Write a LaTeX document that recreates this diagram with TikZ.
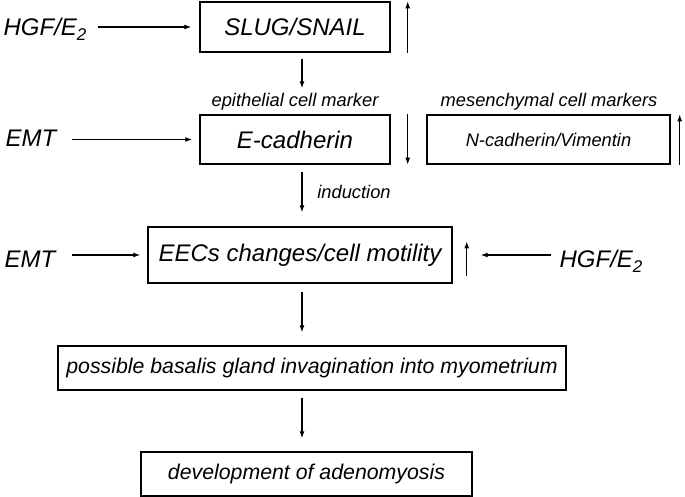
\documentclass[tikz,border=0pt]{standalone}
\usepackage{fontspec}
\setmainfont{Liberation Sans}
\usetikzlibrary{arrows.meta}
\newcommand{\lowtwo}{\raisebox{-5pt}{\fontsize{17}{17}\selectfont 2}}
\begin{document}
\begin{tikzpicture}[x=1pt,y=-1pt,
  box/.style={draw, line width=1.4pt, inner sep=0pt, align=center},
  lbl/.style={inner sep=0pt},
  arr/.style={-{Latex[length=7pt,width=5pt]}, line width=1.1pt},
  big/.style={font=\fontsize{24}{28}\selectfont\itshape},
  mid/.style={font=\fontsize{21.3}{25}\selectfont\itshape},
  sml/.style={font=\fontsize{18.3}{22}\selectfont\itshape},
]
\useasboundingbox (0,0) rectangle (685,497);

% boxes
\node[box,big,minimum width=190pt,minimum height=50pt] (slug) at (295,27) {SLUG/SNAIL};
\node[box,big,minimum width=190pt,minimum height=49pt] (ecad) at (295,139.5) {E-cadherin};
\node[box,sml,minimum width=243pt,minimum height=49pt] (ncad) at (548.5,139.5) {N-cadherin/Vimentin};
\node[box,big,minimum width=304pt,minimum height=56pt] (eec) at (300,255) {EECs changes/cell motility};
\node[box,mid,minimum width=508pt,minimum height=44pt] (bas) at (312,368) {possible basalis gland invagination into myometrium};
\node[box,mid,minimum width=331pt,minimum height=44pt] (dev) at (306.5,474) {development of adenomyosis};

% free labels
\node[lbl,big,anchor=base] (hgf1) at (45,35.6) {HGF/E\lowtwo};
\node[lbl,big,anchor=base] (emt1) at (31,146.6) {EMT};
\node[lbl,big,anchor=base] (emt2) at (30,267.6) {EMT};
\node[lbl,big,anchor=base] (hgf2) at (601,267) {HGF/E\lowtwo};
\node[lbl,sml] (epi) at (295,102) {epithelial cell marker};
\node[lbl,sml] (mes) at (549,102) {mesenchymal cell markers};
\node[lbl,sml] (ind) at (354,192) {induction};

% vertical spine of the main flow
\coordinate (spine) at (302,0);

% horizontal connectors
\draw[arr, shorten <=11pt, shorten >=8pt] (hgf1.east |- slug.west) -- (slug.west);
\draw[arr, shorten <=15pt, shorten >=7pt] (emt1.east |- ecad.west) -- (ecad.west);
\draw[arr, shorten <=16pt, shorten >=7pt] (emt2.east |- eec.west) -- (eec.west);
\draw[arr, shorten <=8pt, shorten >=28pt] (hgf2.west |- eec.east) -- (eec.east);

% vertical connectors
\draw[arr, shorten <=6pt, shorten >=26pt] (slug.south -| spine) -- (ecad.north -| spine);
\draw[arr, shorten <=7pt, shorten >=14pt] (ecad.south -| spine) -- (eec.north -| spine);
\draw[arr, shorten <=8pt, shorten >=13pt] (eec.south -| spine) -- (bas.north -| spine);
\draw[arr, shorten <=7pt, shorten >=13pt] (bas.south -| spine) -- (dev.north -| spine);

% up/down indicator arrows
\draw[arr] ([xshift=17pt]slug.south east) -- ([xshift=17pt]slug.north east);
\draw[arr] ([xshift=17pt]ecad.north east) -- ([xshift=17pt]ecad.south east);
\draw[arr] ([xshift=9pt]ncad.south east) -- ([xshift=9pt]ncad.north east);
\draw[arr, shorten <=8pt, shorten >=15pt] ([xshift=14pt]eec.south east) -- ([xshift=14pt]eec.north east);
\end{tikzpicture}
\end{document}
